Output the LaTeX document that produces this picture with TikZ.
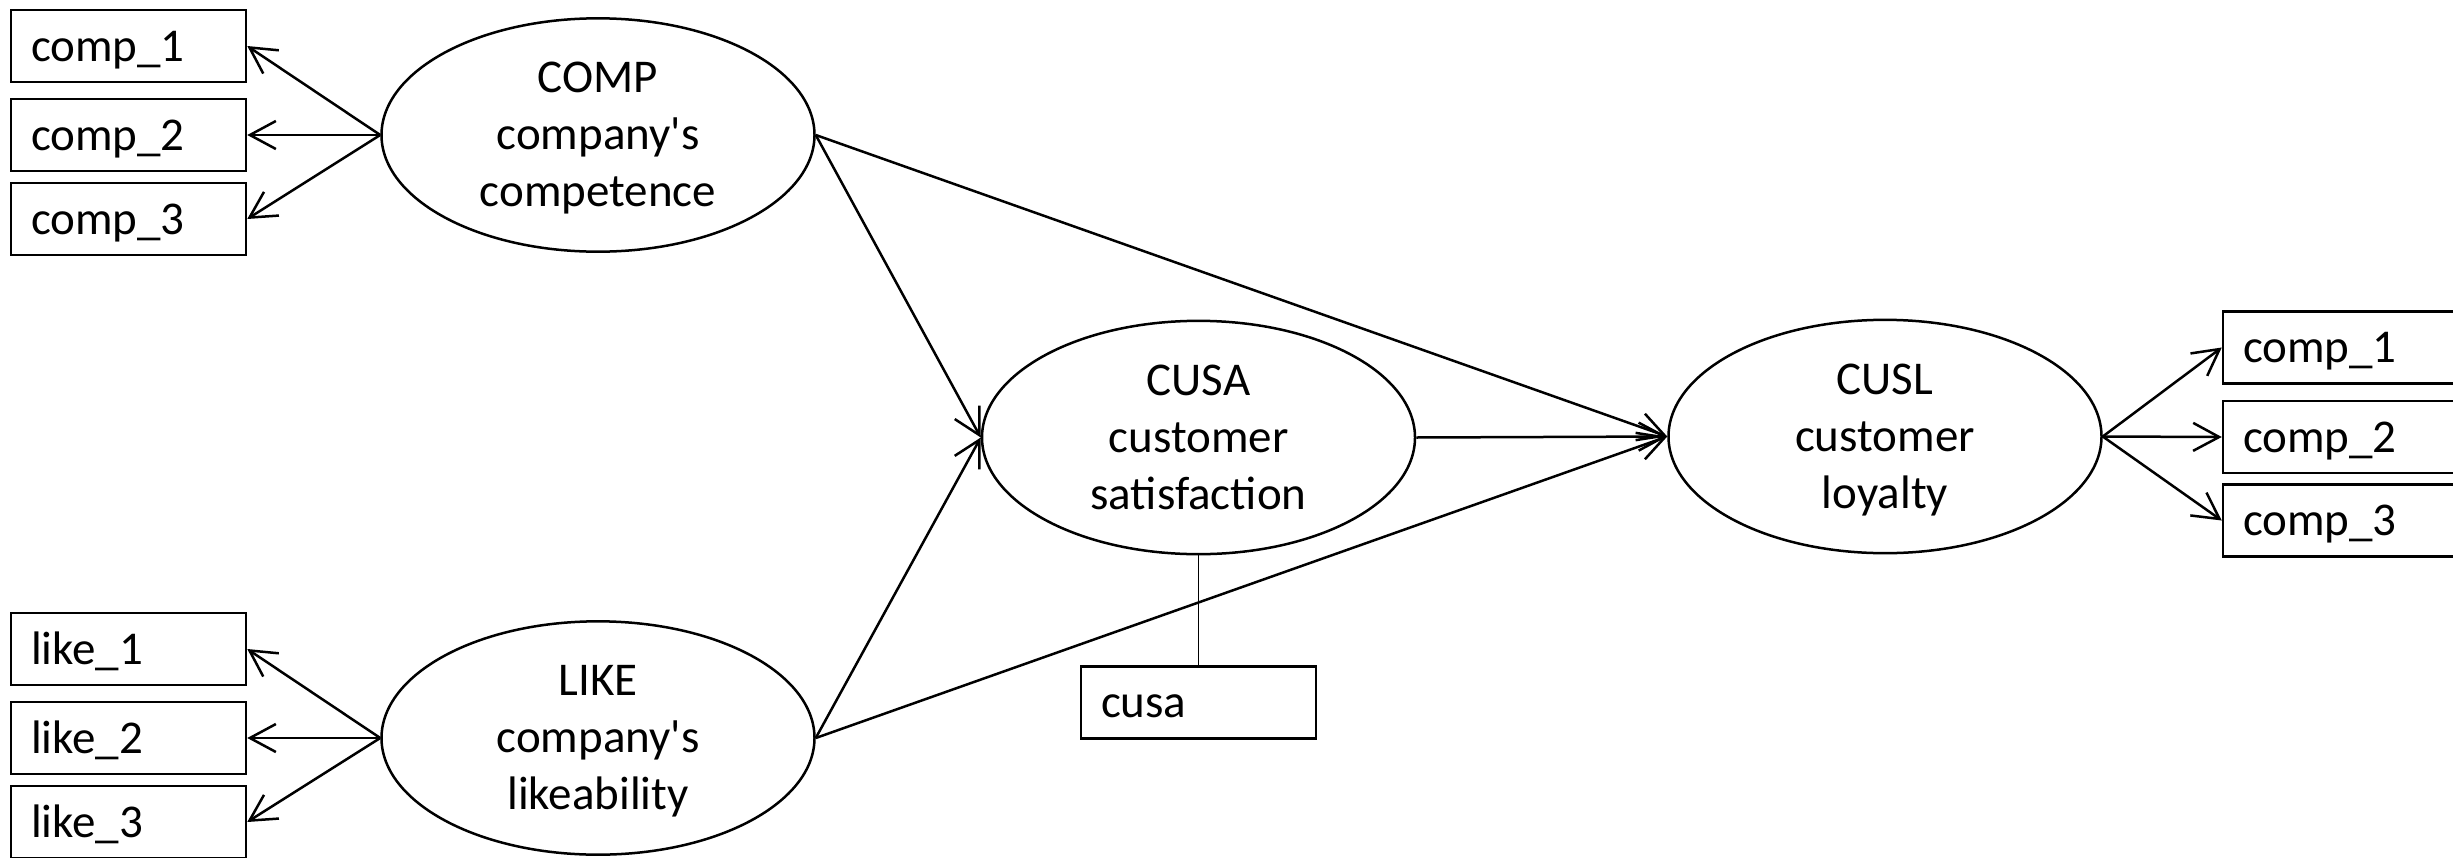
\documentclass[tikz,border=0pt]{standalone}
\usepackage{fontspec}
\setmainfont{Carlito}
\usetikzlibrary{arrows.meta,shapes.geometric}
\newcommand\lstrut{\rule[-11pt]{0pt}{51pt}}
\begin{document}
\begin{tikzpicture}[x=1pt,y=-1pt,
  lat/.style={ellipse,draw,line width=2.5pt,minimum width=433pt,minimum height=218pt,inner sep=0pt,align=center,font=\fontsize{47}{57}\selectfont},
  ind/.style={rectangle,draw,line width=2.5pt,minimum width=235pt,minimum height=72pt,inner xsep=20pt,inner ysep=0pt,text width=195pt,align=left,text height=36pt,text depth=6pt,font=\fontsize{47}{57}\selectfont},
  conn/.style={line width=2.5pt,-{Straight Barb[length=26pt,width=28pt]}},
  thin/.style={line width=1.3pt},
]
\useasboundingbox (0,0) rectangle (2453,857);
\clip (0,0) rectangle (2453,857);
\fill[white] (0,0) rectangle (2453,857);

\node[lat] (comp) at (598,135) {\lstrut COMP\\company\textquotesingle s\\\lstrut competence};
\node[lat] (like) at (598,738) {\lstrut LIKE\\company\textquotesingle s\\\lstrut likeability};
\node[lat] (cusa) at (1198.5,437.5) {\lstrut CUSA\\customer\\\lstrut satisfaction};
\node[lat] (cusl) at (1885,436.5) {\lstrut CUSL\\customer\\\lstrut loyalty};

\node[ind] (c1) at (128.5,46) {comp\_1};
\node[ind] (c2) at (128.5,135) {comp\_2};
\node[ind] (c3) at (128.5,219) {comp\_3};
\node[ind] (l1) at (128.5,649) {like\_1};
\node[ind] (l2) at (128.5,738) {like\_2};
\node[ind] (l3) at (128.5,822) {like\_3};
\node[ind] (r1) at (2340.5,347.5) {comp\_1};
\node[ind] (r2) at (2340.5,437) {comp\_2};
\node[ind] (r3) at (2340.5,520.5) {comp\_3};
\node[ind] (cu) at (1198.5,702.5) {cusa};

\draw[conn] (comp.west) -- (c1.east);
\draw[conn] (comp.west) -- (c2.east);
\draw[conn] (comp.west) -- (c3.east);
\draw[conn] (like.west) -- (l1.east);
\draw[conn] (like.west) -- (l2.east);
\draw[conn] (like.west) -- (l3.east);
\draw[conn] (cusl.east) -- (r1.west);
\draw[conn] (cusl.east) -- (r2.west);
\draw[conn] (cusl.east) -- (r3.west);

\draw[conn] (comp.east) -- (cusa.west);
\draw[conn] (comp.east) -- (cusl.west);
\draw[conn] (like.east) -- (cusa.west);
\draw[conn] (like.east) -- (cusl.west);
\draw[conn] (cusa.east) -- (cusl.west);

\draw[thin] (cusa.south) -- (cu.north);
\end{tikzpicture}
\end{document}
